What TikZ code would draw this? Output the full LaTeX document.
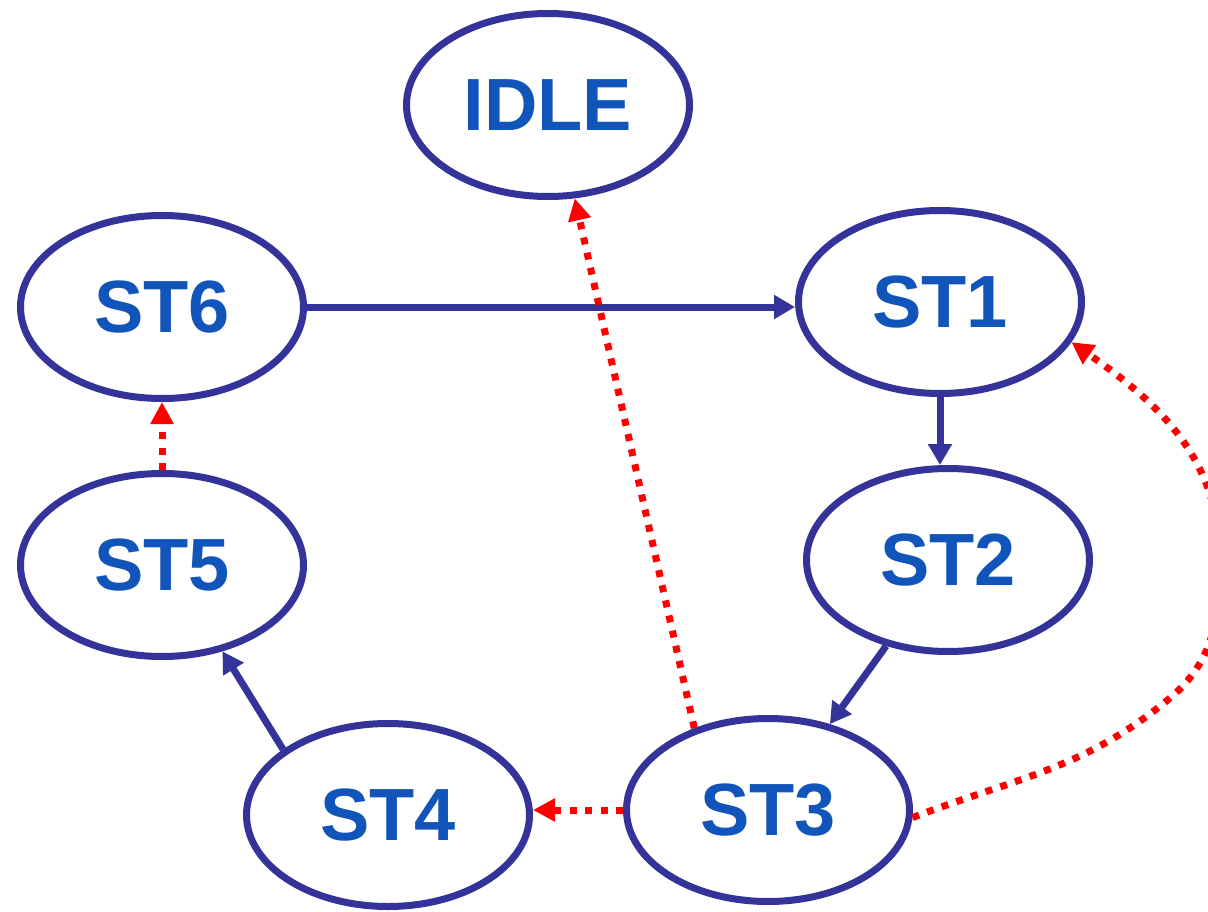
\documentclass[tikz,border=0pt]{standalone}
\usepackage{fontspec}
\setmainfont{Liberation Sans}
\usetikzlibrary{shapes.geometric,positioning,arrows.meta}
\definecolor{stblue}{HTML}{333399}
\definecolor{txtblue}{HTML}{1155BB}
\definecolor{hotred}{HTML}{FF0000}
\begin{document}
\begin{tikzpicture}[x=1pt,y=1pt,on grid,
    state node/.style={ellipse,draw=stblue,line width=7pt,inner sep=0pt,
        minimum width=283pt,minimum height=183pt,text=txtblue,
        font=\fontsize{74}{80}\selectfont\bfseries},
    go edge/.style={draw=stblue,line width=7pt,-{Triangle[length=21pt,width=23pt]}},
    back edge/.style={draw=hotred,line width=7pt,dash pattern=on 7pt off 8.5pt,
        -{Triangle[length=22pt,width=22pt]}}]

    \useasboundingbox (0,0) rectangle (1208,-912);

    \node[state node]  (ST6) at (162,-307) {ST6};
    \node[state node]  (ST1) [right=778pt of ST6, yshift=5pt] {ST1};
    \node[state node]  (ST5) [below=258pt of ST6] {ST5};
    \node[state node]  (ST2) [below=258pt of ST1, xshift=8pt] {ST2};
    \node[state node]  (ST4) [below right=250pt and 226pt of ST5] {ST4};
    \node[state node]  (ST3) [right=380pt of ST4, yshift=5pt] {ST3};
    \node[state node]  (IDLE) [above left=197pt and 392pt of ST1] {IDLE};

    \draw[go edge] (ST6.east) -- (ST6.east -| ST1.west);
    \draw[go edge] (ST1.south) -- (ST1.south |- ST2.north);
    \draw[go edge] (ST2) -- (ST3);
    \draw[go edge] (ST4.148) -- (ST5.-55);

    \draw[back edge] (ST3.west) -- (ST3.west -| ST4.east);
    \draw[back edge] (ST5) -- (ST6);
    \draw[back edge] (ST3.132) -- (IDLE.-74);
    \draw[back edge] (ST3.-3) to[out=21,in=-140] (1170,-698)
        to[out=40,in=-90] (1220,-560) to[out=90,in=-35] (ST1.-17);
\end{tikzpicture}
\end{document}
